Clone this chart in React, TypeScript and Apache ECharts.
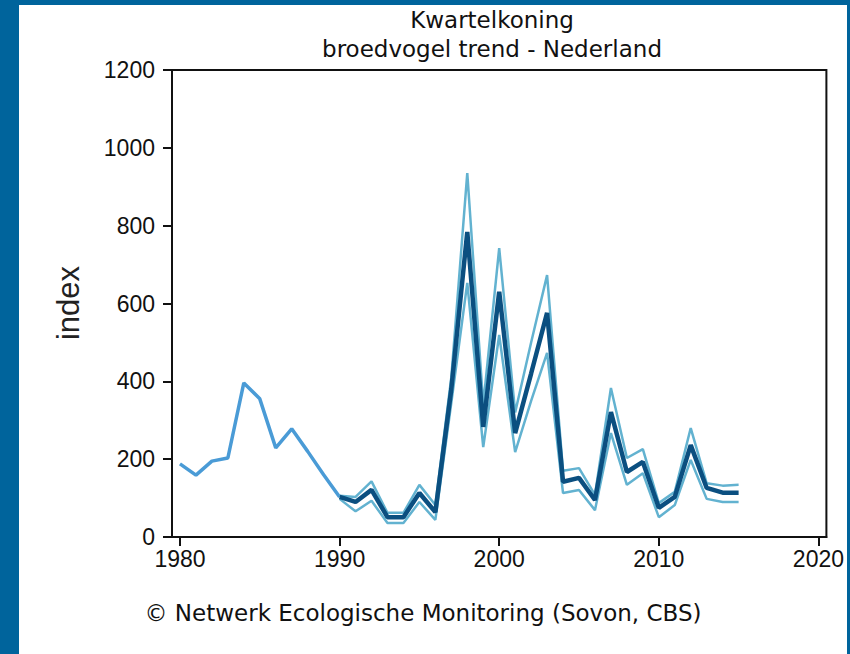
import React, { useEffect, useRef } from "react";
import * as echarts from "echarts";

const earlyYears = [1980, 1981, 1982, 1983, 1984, 1985, 1986, 1987, 1988, 1989, 1990];
const earlyIndex = [188, 159, 195, 203, 396, 355, 229, 278, 220, 160, 103];

const trendYears = [1990, 1991, 1992, 1993, 1994, 1995, 1996, 1997, 1998, 1999, 2000, 2001, 2002, 2003, 2004, 2005, 2006, 2007, 2008, 2009, 2010, 2011, 2012, 2013, 2014, 2015];
const trendIndex = [103, 90, 121, 51, 51, 113, 64, 380, 784, 283, 630, 267, 420, 576, 142, 152, 95, 321, 167, 193, 75, 103, 236, 126, 114, 114];
const upperIndex = [106, 103, 143, 62, 62, 134, 82, 410, 935, 340, 742, 320, 500, 673, 170, 177, 108, 383, 203, 226, 87, 116, 280, 138, 132, 134];
const lowerIndex = [98, 66, 93, 36, 36, 90, 44, 345, 653, 231, 519, 218, 350, 473, 113, 121, 69, 267, 134, 164, 51, 82, 198, 98, 90, 90];

const xTicks = [1980, 1990, 2000, 2010, 2020];

const titleLine1 = "Kwartelkoning";
const titleLine2 = "broedvogel trend - Nederland";
const yName = "index";
const footer = "\u00a9 Netwerk Ecologische Monitoring (Sovon, CBS)";

const pair = (xs: number[], ys: number[]) => xs.map((x, i) => [x, ys[i]]);

export default function App() {
  const ref = useRef<HTMLDivElement>(null);
  useEffect(() => {
    if (!ref.current) return;
    const chart = echarts.init(ref.current, null, { renderer: "svg" });
    const boundColor = "#62b2d0";
    chart.setOption({
      animation: false,
      backgroundColor: "#ffffff",
      grid: {
        left: 153,
        top: 65,
        right: 20,
        bottom: 117,
        show: true,
        borderColor: "#111",
        borderWidth: 2,
        backgroundColor: "transparent",
      },
      xAxis: {
        type: "value",
        min: 1979.5,
        max: 2020.5,
        axisLine: { show: true, onZero: false, lineStyle: { color: "#111", width: 2 } },
        axisTick: { show: true, length: 9, lineStyle: { color: "#111", width: 2 }, customValues: xTicks },
        axisLabel: {
          customValues: xTicks,
          color: "#111",
          fontFamily: "Liberation Sans",
          fontSize: 23,
          margin: 10,
          formatter: (v: number) => String(v),
        },
        splitLine: { show: false },
      },
      yAxis: {
        type: "value",
        min: 0,
        max: 1200,
        interval: 200,
        axisLine: { show: true, lineStyle: { color: "#111", width: 2 } },
        axisTick: { show: true, length: 9, lineStyle: { color: "#111", width: 2 } },
        axisLabel: {
          color: "#111",
          fontFamily: "Liberation Sans",
          fontSize: 23,
          margin: 17,
          formatter: (v: number) => String(v),
        },
        splitLine: { show: false },
      },
      graphic: [
        {
          type: "text",
          x: 473,
          y: 15,
          style: {
            text: titleLine1,
            fontFamily: "DejaVu Sans",
            fontSize: 23,
            fill: "#111",
            align: "center",
            verticalAlign: "middle",
          },
        },
        {
          type: "text",
          x: 473,
          y: 44,
          style: {
            text: titleLine2,
            fontFamily: "DejaVu Sans",
            fontSize: 23,
            fill: "#111",
            align: "center",
            verticalAlign: "middle",
          },
        },
        {
          type: "text",
          x: 49,
          y: 298,
          rotation: Math.PI / 2,
          style: {
            text: yName,
            fontFamily: "Liberation Sans",
            fontSize: 31,
            fill: "#222",
            align: "center",
            verticalAlign: "middle",
          },
        },
        {
          type: "text",
          x: 404,
          y: 608,
          style: {
            text: footer,
            fontFamily: "DejaVu Sans",
            fontSize: 23,
            fill: "#111",
            align: "center",
            verticalAlign: "middle",
          },
        },
      ],
      series: [
        {
          type: "line",
          data: pair(earlyYears, earlyIndex),
          showSymbol: false,
          lineStyle: { color: "#4a9bd6", width: 3.5 },
          z: 2,
        },
        {
          type: "line",
          data: pair(trendYears, upperIndex),
          showSymbol: false,
          lineStyle: { color: boundColor, width: 2.5 },
          z: 3,
        },
        {
          type: "line",
          data: pair(trendYears, lowerIndex),
          showSymbol: false,
          lineStyle: { color: boundColor, width: 2.5 },
          z: 3,
        },
        {
          type: "line",
          data: pair(trendYears, trendIndex),
          showSymbol: false,
          lineStyle: { color: "#0b4f80", width: 4.5 },
          z: 4,
        },
      ],
    });
    return () => chart.dispose();
  }, []);

  return (
    <div style={{ position: "fixed", left: 0, top: 0, width: 850, height: 654, background: "#00649c" }}>
      <div ref={ref} style={{ position: "absolute", left: 19, top: 5, width: 828, height: 649 }} />
    </div>
  );
}
